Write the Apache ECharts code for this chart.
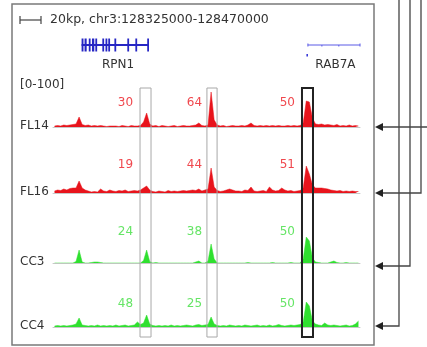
<!DOCTYPE html>
<html><head><meta charset="utf-8">
<script src="https://cdn.jsdelivr.net/npm/echarts@6/dist/echarts.min.js"></script>
<style>html,body{margin:0;padding:0;background:#fff}#c{width:427px;height:347px}</style>
</head><body><div id="c"></div>
<script>
// genomic window (kb)
const regionStart = 128325, regionEnd = 128470;
const binSize = 1.45;
const titleText = '20kp, chr3:128325000-128470000';
const rangeText = '[0-100]';
const trackNames = ['FL14', 'FL16', 'CC3', 'CC4'];

// signal per 1.45 kb bin (scale 0-100)
const fl14 = [2,3,2,4,3,4,5,6,20,5, 3,4,2,3,2,3,2,1,2,2, 2,1,3,2,1,3,2,2,3,10,
  28,6,2,3,1,3,2,1,2,3, 1,2,3,2,2,3,4,8,3,2, 4,70,14,4,2,3,1,2,3,2,
  2,3,2,4,8,3,2,3,2,3, 2,3,2,3,2,2,3,2,3,2, 3,8,52,50,18,6,5,6,4,5, 4,3,5,2,3,2,4,2,3,2];
const fl16 = [4,6,5,8,6,9,10,10,24,10, 6,4,2,3,2,8,4,3,6,4, 3,5,4,6,3,4,5,4,6,10,
  14,6,3,2,4,3,2,5,3,4, 3,4,5,4,5,6,5,8,4,6, 8,50,12,5,3,4,6,8,6,4,
  4,3,6,5,12,4,3,4,5,3, 12,6,4,5,10,6,4,5,3,4, 5,10,54,38,16,10,10,10,9,8, 6,5,4,5,3,4,3,4,3,3];
const cc3 = [0,0,0,0,0,0,0,3,26,2, 0,0,1,2,2,1,0,0,0,0, 0,0,0,0,0,0,0,0,0,5,
  26,3,0,1,0,0,0,0,0,0, 0,0,0,0,0,0,2,4,0,0, 4,38,8,0,0,0,0,0,0,0,
  0,0,0,1,0,0,0,0,0,0, 0,1,0,0,0,0,0,1,0,0, 0,8,52,44,10,2,1,0,0,0, 2,4,1,0,0,1,0,0,0,0];
const cc4 = [2,3,2,3,2,3,4,6,18,4, 3,2,3,2,4,2,3,2,3,2, 4,2,3,4,2,3,4,10,5,8,
  24,6,3,2,3,2,3,2,4,2, 3,2,3,4,3,2,4,5,3,4, 5,20,6,3,2,3,2,4,3,2,
  3,2,4,3,2,3,4,2,3,2, 4,2,3,5,3,2,3,4,3,4, 5,10,50,42,12,6,4,3,8,4, 3,4,3,2,3,4,2,3,6,12];
const trackData = [fl14, fl16, cc3, cc4];

// peak value labels per track (one per highlighted region)
const peakLabels = [[30, 64, 50], [19, 44, 51], [24, 38, 50], [48, 25, 50]];
const labelPos = [128362.8, 128395.4, 128439.3];

// highlighted regions (kb)
const boxStarts = [128366.1, 128397.7, 128442.6];
const boxEnds   = [128371.3, 128402.5, 128447.8];
const boxStrong = [0, 0, 1];

// genes
const geneNames  = ['RPN1', 'RAB7A'];
const geneStarts = [128338.5, 128445.4];
const geneEnds   = [128370.3, 128470];
const geneLabelPos = [128355.7, 128458.4];
const rpn1Exons = [[128338.5,128339.4],[128339.9,128340.9],[128341.9,128342.6],[128343.4,128344.5],
  [128345.0,128345.8],[128348.3,128349.1],[128349.8,128350.6],[128351.1,128351.8],[128354.0,128354.7],
  [128360.1,128360.9],[128363.9,128364.6],[128369.5,128370.3]];
const rab7aTicks = [128452, 128460];

const FONT = 'DejaVu Sans';
const redFill = '#e8141c', redText = '#f0484e';
const greenFill = '#2fe02f', greenText = '#66e566';
const trackFill = [redFill, redFill, greenFill, greenFill];
const trackText = [redText, redText, greenText, greenText];

const L = 53, W = 307;
const baselines = [127, 193, 263, 327];
const trackH = 50;
const labelLevels = [48, 56, 62, 46];

const chart = echarts.init(document.getElementById('c'), null, {renderer: 'canvas'});

const grids = [], xAxes = [], yAxes = [], series = [];
trackNames.forEach((n, i) => {
  grids.push({left: L, width: W, top: baselines[i] - trackH, height: trackH});
  xAxes.push({type: 'value', gridIndex: i, min: regionStart, max: regionEnd,
    axisLine: {show: true, lineStyle: {color: '#c8c8c8', width: 1}},
    axisTick: {show: false}, axisLabel: {show: false}, splitLine: {show: false}});
  yAxes.push({type: 'value', gridIndex: i, min: 0, max: 100, show: false, splitLine: {show: false}});
  series.push({type: 'line', xAxisIndex: i, yAxisIndex: i, symbol: 'none', silent: true,
    data: trackData[i].map((v, k) => [regionStart + (k + 0.5) * binSize, v]),
    lineStyle: {width: 0.5, color: trackFill[i]},
    areaStyle: {color: trackFill[i], opacity: 1}, z: 2});
  series.push({type: 'custom', xAxisIndex: i, yAxisIndex: i, silent: true, clip: false,
    data: peakLabels[i].map((v, k) => [labelPos[k], labelLevels[i], v]),
    renderItem: (params, api) => {
      const p = api.coord([api.value(0), api.value(1)]);
      return {type: 'text', style: {text: String(api.value(2)), x: p[0], y: p[1],
        align: 'right', verticalAlign: 'middle', textAlign: 'right', textVerticalAlign: 'middle',
        fill: trackText[i], font: '12px ' + FONT}};
    }, z: 3});
});

// gene grid
const gi = grids.length;
grids.push({left: L, width: W, top: 35, height: 20});
xAxes.push({type: 'value', gridIndex: gi, min: regionStart, max: regionEnd, show: false});
yAxes.push({type: 'value', gridIndex: gi, min: 0, max: 1, show: false});
series.push({type: 'custom', xAxisIndex: gi, yAxisIndex: gi, silent: true, clip: false,
  data: geneNames.map((n, k) => [geneStarts[k], geneEnds[k], k]),
  renderItem: (params, api) => {
    const k = api.value(2);
    const a = api.coord([api.value(0), 0.5]), b = api.coord([api.value(1), 0.5]);
    const y = a[1];
    const children = [];
    const lbl = api.coord([geneLabelPos[k], 0.5]);
    if (k === 0) {
      children.push({type: 'line', shape: {x1: a[0], y1: y, x2: b[0], y2: y}, style: {stroke: '#2626c4', lineWidth: 1.8}});
      rpn1Exons.forEach(e => {
        const s = api.coord([e[0], 0.5]), t = api.coord([e[1], 0.5]);
        children.push({type: 'rect', shape: {x: s[0], y: y - 6.5, width: Math.max(1.8, t[0] - s[0]), height: 13},
          style: {fill: '#2626c4'}});
      });
    } else {
      children.push({type: 'line', shape: {x1: a[0], y1: y, x2: b[0], y2: y}, style: {stroke: '#5a5ae6', lineWidth: 1}});
      children.push({type: 'line', shape: {x1: a[0], y1: y - 1.5, x2: a[0], y2: y + 1.5}, style: {stroke: '#5a5ae6', lineWidth: 1}});
      children.push({type: 'line', shape: {x1: b[0], y1: y - 1.5, x2: b[0], y2: y + 1.5}, style: {stroke: '#5a5ae6', lineWidth: 1}});
      rab7aTicks.forEach(tk => {
        const q = api.coord([tk, 0.5]);
        children.push({type: 'line', shape: {x1: q[0], y1: y, x2: q[0], y2: y + 1.5}, style: {stroke: '#5a5ae6', lineWidth: 1}});
      });
      children.push({type: 'rect', shape: {x: a[0] - 1.5, y: y + 9, width: 1.6, height: 2.5}, style: {fill: '#3a3ad8'}});
    }
    children.push({type: 'text', style: {text: geneNames[k], x: lbl[0], y: y + 20,
      align: 'center', verticalAlign: 'middle', textAlign: 'center', textVerticalAlign: 'middle',
      fill: '#333', font: '12px ' + FONT}});
    return {type: 'group', children};
  }});

// highlight boxes
const bi = grids.length;
grids.push({left: L, width: W, top: 88, height: 249});
xAxes.push({type: 'value', gridIndex: bi, min: regionStart, max: regionEnd, show: false});
yAxes.push({type: 'value', gridIndex: bi, min: 0, max: 1, show: false});
series.push({type: 'custom', xAxisIndex: bi, yAxisIndex: bi, silent: true, clip: false, z: 10,
  data: boxStarts.map((s, k) => [s, boxEnds[k], boxStrong[k]]),
  renderItem: (params, api) => {
    const p = api.coord([api.value(0), 1]), q = api.coord([api.value(1), 0]);
    const strong = api.value(2) === 1;
    return {type: 'rect', shape: {x: p[0], y: p[1], width: q[0] - p[0], height: q[1] - p[1]},
      style: {fill: 'none', stroke: strong ? '#222' : '#a8a8a8', lineWidth: strong ? 2 : 1}};
  }});

// decorations
const graphic = [];
graphic.push({type: 'rect', shape: {x: 12, y: 4, width: 362, height: 341},
  style: {fill: 'none', stroke: '#7a7a7a', lineWidth: 1.5}, z: 0});
graphic.push({type: 'line', shape: {x1: 20, y1: 20, x2: 41, y2: 20}, style: {stroke: '#444', lineWidth: 1.2}});
graphic.push({type: 'line', shape: {x1: 20, y1: 16, x2: 20, y2: 24}, style: {stroke: '#444', lineWidth: 1.2}});
graphic.push({type: 'line', shape: {x1: 41, y1: 16, x2: 41, y2: 24}, style: {stroke: '#444', lineWidth: 1.2}});
graphic.push({type: 'text', style: {text: titleText, x: 50, y: 20, textVerticalAlign: 'middle', verticalAlign: 'middle',
  fill: '#333', font: '12.5px ' + FONT}});
graphic.push({type: 'text', style: {text: rangeText, x: 20, y: 85, textVerticalAlign: 'middle', verticalAlign: 'middle',
  fill: '#333', font: '12px ' + FONT}});
trackNames.forEach((n, i) => {
  graphic.push({type: 'text', style: {text: n, x: 20, y: baselines[i] - 1, textVerticalAlign: 'middle', verticalAlign: 'middle',
    fill: '#333', font: '12px ' + FONT}});
});
// connector arrows on the right
const arrowY = [127, 193, 266, 326];
const connX = [427, 421, 410, 399];
arrowY.forEach((y, i) => {
  const x = connX[i];
  const pts = i === 0 ? [[382, y], [x, y]] : [[382, y], [x, y], [x, 0]];
  graphic.push({type: 'polyline', shape: {points: pts}, style: {stroke: '#444', lineWidth: 1.3, fill: 'none'}});
  graphic.push({type: 'polygon', shape: {points: [[375, y], [383, y - 4], [383, y + 4]]}, style: {fill: '#222'}});
});

chart.setOption({
  animation: false,
  backgroundColor: '#fff',
  grid: grids, xAxis: xAxes, yAxis: yAxes, series, graphic
});
</script></body></html>
